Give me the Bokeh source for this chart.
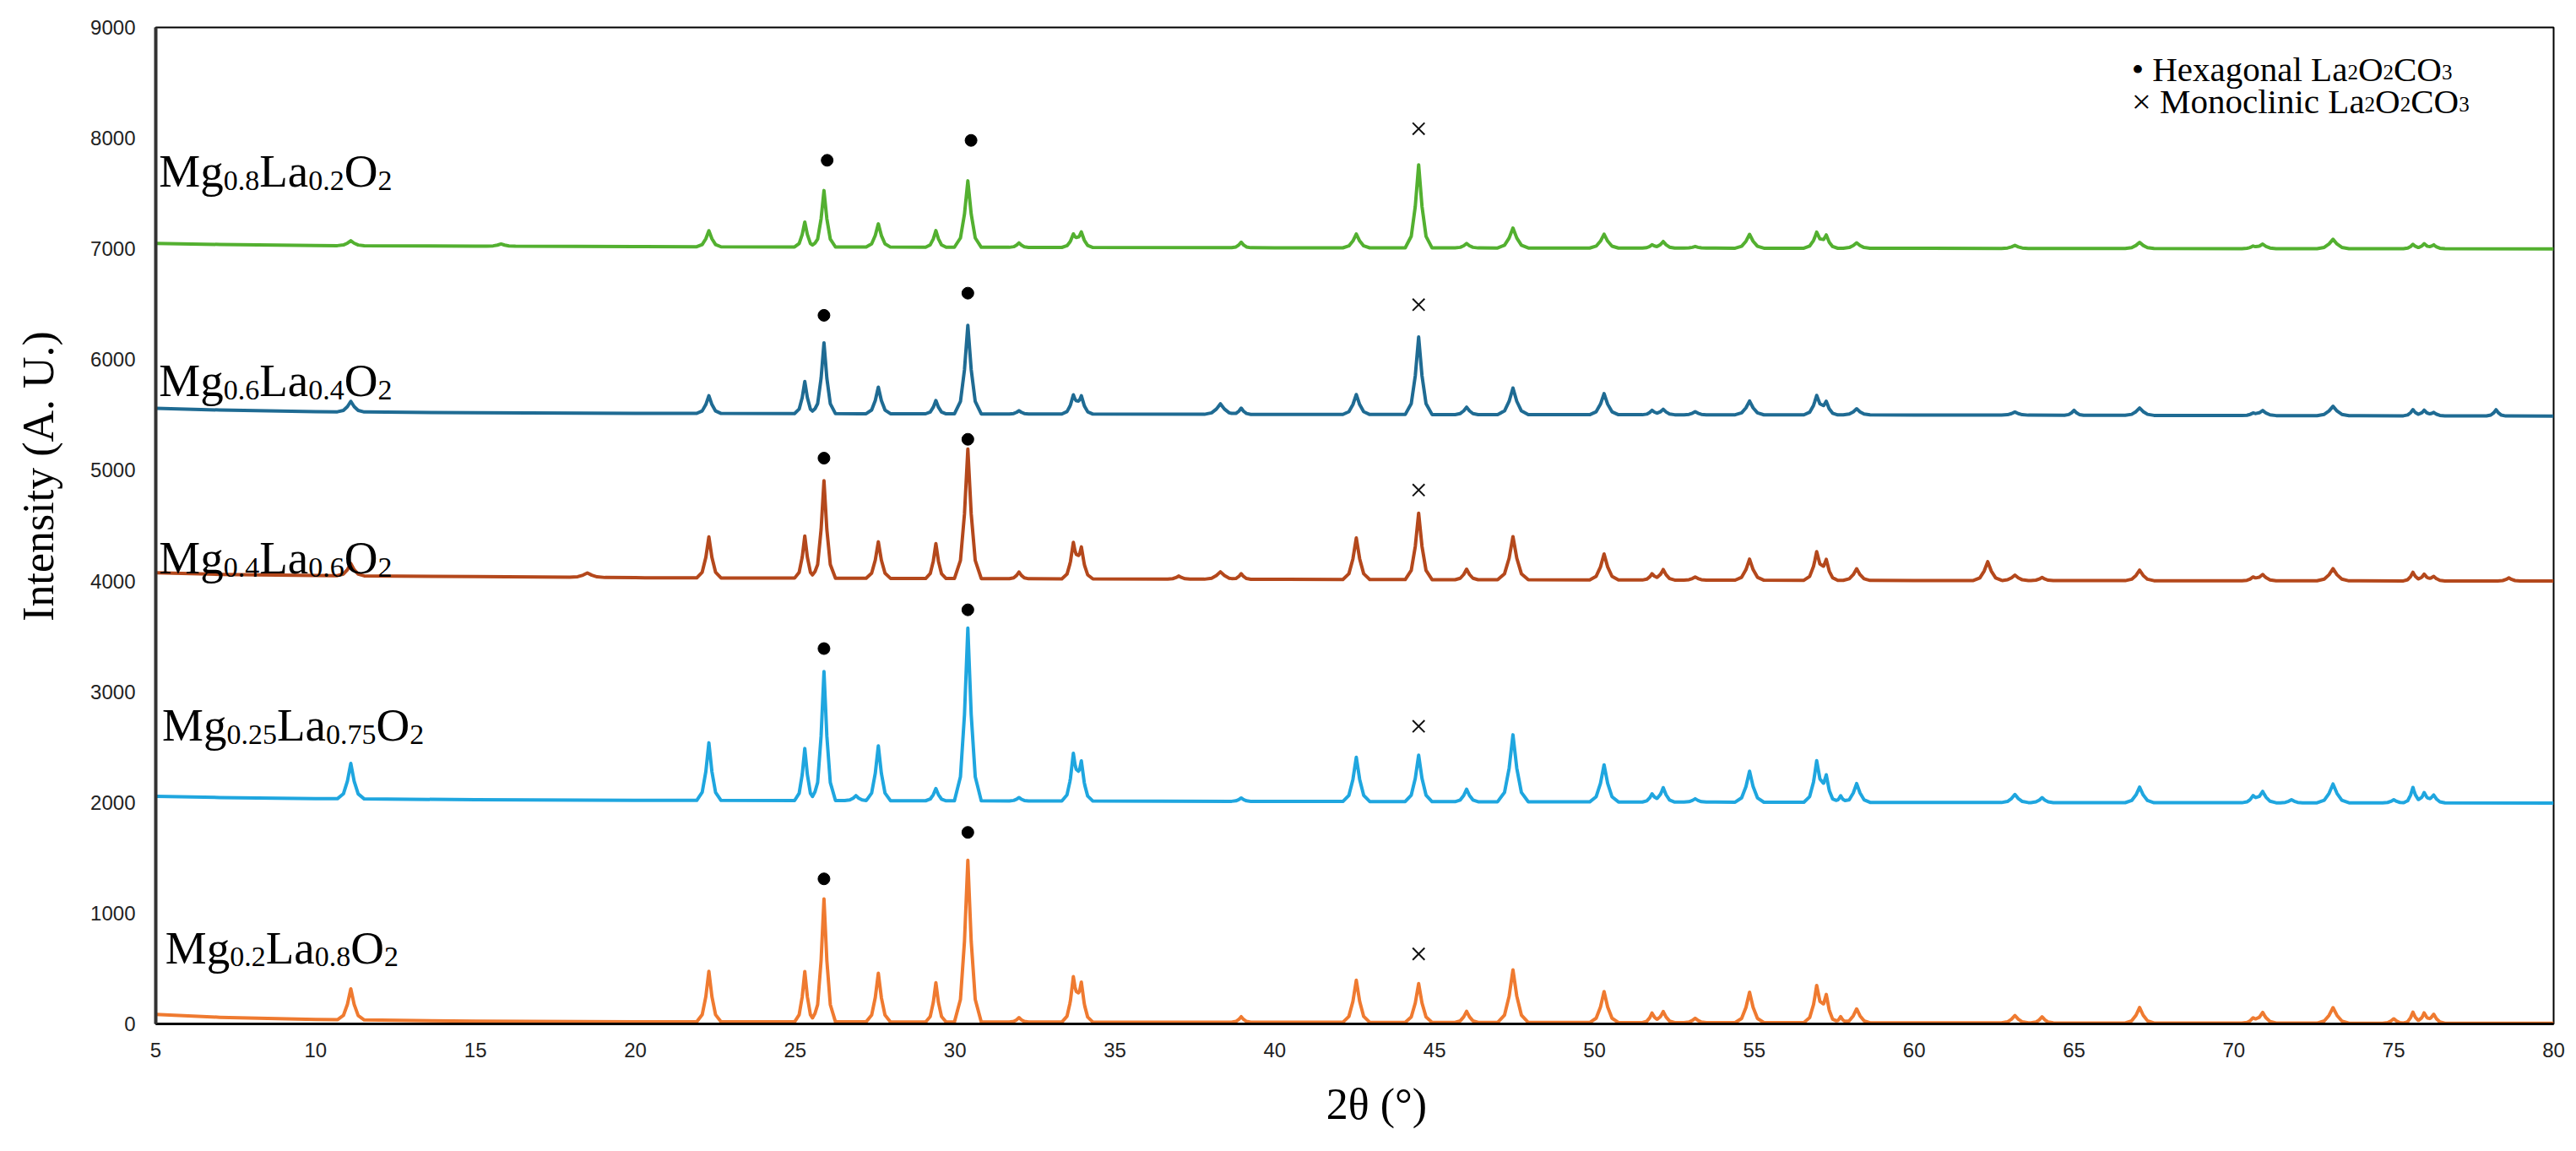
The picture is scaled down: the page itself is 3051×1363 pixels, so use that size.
import math
import numpy as np
from bokeh.plotting import figure
from bokeh.models import Range1d, FixedTicker, ColumnDataSource
from bokeh.core.properties import value
from bokeh.embed import file_html
from bokeh.resources import INLINE

# ---------------- data ----------------
x_ticks = [5, 10, 15, 20, 25, 30, 35, 40, 45, 50, 55, 60, 65, 70, 75, 80]
y_ticks = [0, 1000, 2000, 3000, 4000, 5000, 6000, 7000, 8000, 9000]

# common reflection positions (2theta, deg) and half base widths
peak_pos = [11.1, 15.8, 18.5, 22.3, 25.3, 25.9, 26.9, 27.6, 29.4, 30.4,
            32.0, 33.7, 33.95, 37.0, 38.3, 38.95, 42.55, 44.5, 46.0, 47.45,
            50.3, 51.8, 52.15, 53.15, 54.85, 56.95, 57.25, 57.7, 58.2, 62.3,
            63.15, 64.0, 65.0, 67.05, 70.6, 70.9, 71.8, 73.1, 75.0, 75.6,
            75.95, 76.25, 78.2, 78.6]
peak_hw = [0.42, 0.45, 0.55, 0.38, 0.32, 0.36, 0.35, 0.38, 0.32, 0.42,
           0.3, 0.36, 0.36, 0.35, 0.5, 0.3, 0.42, 0.42, 0.36, 0.48,
           0.45, 0.3, 0.36, 0.35, 0.45, 0.4, 0.36, 0.25, 0.42, 0.45,
           0.42, 0.35, 0.3, 0.45, 0.35, 0.42, 0.35, 0.5, 0.35, 0.3,
           0.32, 0.35, 0.3, 0.35]

base_x = [5, 7, 10, 15, 20, 40, 60, 80]

names = ["Mg0.2La0.8O2", "Mg0.25La0.75O2", "Mg0.4La0.6O2", "Mg0.6La0.4O2", "Mg0.8La0.2O2"]
colors = ["#ef7a30", "#1fa6df", "#b4481c", "#1f6b93", "#53b030"]

base_vals = {
    "Mg0.2La0.8O2":   [85, 60, 40, 25, 20, 15, 10, 5],
    "Mg0.25La0.75O2": [2055, 2045, 2035, 2025, 2020, 2010, 2000, 1995],
    "Mg0.4La0.6O2":   [4075, 4060, 4050, 4040, 4030, 4015, 4005, 4000],
    "Mg0.6La0.4O2":   [5560, 5545, 5530, 5520, 5515, 5505, 5500, 5490],
    "Mg0.8La0.2O2":   [7050, 7040, 7030, 7025, 7020, 7010, 7005, 7000],
}

peak_heights = {
    "Mg0.2La0.8O2": [280, 0, 0, 455, 455, 1110, 0, 440, 355, 1460,
                     40, 380, 325, 0, 0, 50, 380, 350, 100, 475,
                     280, 85, 100, 40, 275, 325, 230, 55, 125, 0,
                     67, 55, 0, 140, 40, 95, 0, 140, 40, 100,
                     90, 80, 0, 0],
    "Mg0.25La0.75O2": [320, 0, 0, 520, 470, 1165, 45, 495, 110, 1560,
                       30, 400, 325, 0, 0, 30, 400, 420, 112, 605,
                       335, 73, 130, 30, 280, 365, 220, 60, 170, 0,
                       73, 45, 0, 140, 56, 100, 28, 170, 28, 140,
                       90, 70, 0, 0],
    "Mg0.4La0.6O2": [110, 0, 40, 370, 380, 880, 0, 330, 315, 1170,
                     60, 305, 260, 28, 67, 50, 375, 600, 95, 390,
                     235, 56, 95, 28, 190, 250, 170, 0, 105, 170,
                     50, 28, 0, 95, 30, 56, 0, 110, 0, 78,
                     60, 40, 0, 28],
    "Mg0.6La0.4O2": [95, 0, 0, 160, 290, 640, 0, 240, 120, 800,
                     30, 160, 150, 0, 95, 56, 180, 700, 67, 240,
                     190, 40, 50, 28, 125, 170, 110, 0, 56, 0,
                     28, 0, 45, 67, 20, 45, 0, 85, 0, 56,
                     50, 30, 56, 0],
    "Mg0.8La0.2O2": [45, 20, 0, 145, 225, 510, 0, 210, 150, 600,
                     40, 110, 130, 0, 0, 50, 125, 750, 40, 180,
                     125, 30, 60, 15, 125, 140, 110, 0, 50, 0,
                     28, 0, 0, 56, 20, 40, 0, 85, 0, 40,
                     45, 35, 0, 0],
}

# marker annotations
hex_x = {"Mg0.2La0.8O2": [25.9, 30.4], "Mg0.25La0.75O2": [25.9, 30.4],
         "Mg0.4La0.6O2": [25.9, 30.4], "Mg0.6La0.4O2": [25.9, 30.4],
         "Mg0.8La0.2O2": [26.0, 30.5]}
hex_y = {"Mg0.2La0.8O2": [1310, 1730], "Mg0.25La0.75O2": [3390, 3740],
         "Mg0.4La0.6O2": [5110, 5280], "Mg0.6La0.4O2": [6400, 6600],
         "Mg0.8La0.2O2": [7800, 7980]}
mono_x = [44.5, 44.5, 44.5, 44.5, 44.5]
mono_y = [632, 2688, 4822, 6496, 8085]

# series labels: pieces (text, subscript?) and anchor (x, baseline y)
label_pieces = {
    "Mg0.2La0.8O2":   [("Mg", 0), ("0.2", 1), ("La", 0), ("0.8", 1), ("O", 0), ("2", 1)],
    "Mg0.25La0.75O2": [("Mg", 0), ("0.25", 1), ("La", 0), ("0.75", 1), ("O", 0), ("2", 1)],
    "Mg0.4La0.6O2":   [("Mg", 0), ("0.4", 1), ("La", 0), ("0.6", 1), ("O", 0), ("2", 1)],
    "Mg0.6La0.4O2":   [("Mg", 0), ("0.6", 1), ("La", 0), ("0.4", 1), ("O", 0), ("2", 1)],
    "Mg0.8La0.2O2":   [("Mg", 0), ("0.8", 1), ("La", 0), ("0.2", 1), ("O", 0), ("2", 1)],
}
label_x = {"Mg0.2La0.8O2": 5.3, "Mg0.25La0.75O2": 5.2, "Mg0.4La0.6O2": 5.1,
           "Mg0.6La0.4O2": 5.1, "Mg0.8La0.2O2": 5.1}
label_y = {"Mg0.2La0.8O2": 690, "Mg0.25La0.75O2": 2700, "Mg0.4La0.6O2": 4210,
           "Mg0.6La0.4O2": 5810, "Mg0.8La0.2O2": 7700}

legend_lines = [
    [("\u2022 Hexagonal ", 0), ("La", 0), ("2", 1), ("O", 0), ("2", 1), ("CO", 0), ("3", 1)],
    [("\u00d7 Monoclinic ", 0), ("La", 0), ("2", 1), ("O", 0), ("2", 1), ("CO", 0), ("3", 1)],
]
legend_x = 66.8
legend_y = [8625, 8335]

x_title = "2\u03b8 (\u00b0)"
y_title = "Intensity (A. U.)"

# ---------------- figure ----------------
FRAME_H = 1180
p = figure(width=3051, height=1363, output_backend="svg", toolbar_location=None,
           x_range=Range1d(5, 80), y_range=Range1d(0, 9000),
           min_border_left=184, min_border_right=27, min_border_top=32,
           min_border_bottom=151)
p.background_fill_color = "white"
p.border_fill_color = "white"
p.outline_line_color = "black"
p.outline_line_width = 2
p.xgrid.visible = False
p.ygrid.visible = False

for ax, ticks in ((p.xaxis[0], x_ticks), (p.yaxis[0], y_ticks)):
    ax.ticker = FixedTicker(ticks=ticks)
    ax.major_tick_in = 0
    ax.major_tick_out = 0
    ax.minor_tick_in = 0
    ax.minor_tick_out = 0
    ax.major_label_text_font = "Liberation Sans"
    ax.major_label_text_font_size = "24px"
    ax.major_label_text_color = "#222222"
    ax.axis_label_text_font = "Liberation Serif"
    ax.axis_label_text_font_size = "52px"
    ax.axis_label_text_font_style = "normal"
    ax.axis_label_text_color = "black"
p.xaxis.axis_line_width = 3
p.xaxis.axis_line_color = "black"
p.yaxis.axis_line_width = 4
p.yaxis.axis_line_color = "#333333"
p.xaxis.major_label_standoff = 22
p.yaxis.major_label_standoff = 24

# leading no-break spaces shift the centred titles to where the reference has them
p.xaxis.axis_label = "\u00a0" * 4 + x_title
p.yaxis.axis_label = "\u00a0" * 9 + y_title
p.xaxis.axis_label_standoff = 24
p.yaxis.axis_label_standoff = 30

pos = np.array(peak_pos)
hw = np.array(peak_hw)


def curve(name):
    hts = np.array(peak_heights[name], dtype=float)
    xs = set(base_x)
    for c, w, h in zip(pos, hw, hts):
        if h > 0:
            xs.update([c - w, c - 0.55 * w, c - 0.25 * w, c, c + 0.25 * w, c + 0.55 * w, c + w])
    xs = np.array(sorted(x for x in xs if 5 <= x <= 80))
    ys = np.interp(xs, base_x, base_vals[name])
    for c, w, h in zip(pos, hw, hts):
        if h > 0:
            d = np.abs(xs - c) / w
            ys = ys + h * np.interp(d, [0, 0.25, 0.55, 1], [1, 0.5, 0.14, 0], right=0)
    return xs, ys


for name, col in zip(names, colors):
    xs, ys = curve(name)
    p.line(xs, ys, line_color=col, line_width=4, line_join="round")

# markers
hx, hy = [], []
for name in names:
    hx += hex_x[name]
    hy += hex_y[name]
p.scatter(hx, hy, marker="circle", size=14, fill_color="black", line_color="black")
p.scatter(mono_x, mono_y, marker="x", size=20, line_width=2, line_color="#111111")

# text with subscripts
TW = {'M': 889, 'g': 500, 'L': 611, 'a': 444, 'O': 722, 'C': 667, '.': 250, ' ': 250,
      'H': 722, 'e': 444, 'x': 500, 'o': 500, 'n': 500, 'l': 278, 'i': 278, 'c': 444,
      '\u00d7': 564, '\u2022': 350}
for d in "0123456789":
    TW[d] = 500

units_per_px = 9000.0 / FRAME_H


def add_rich(pieces, x, y, fs_main, fs_sub, drop):
    main = dict(x=[], y=[], t=[], xo=[])
    sub = dict(x=[], y=[], t=[], xo=[])
    off = 0.0
    for txt, is_sub in pieces:
        fs = fs_sub if is_sub else fs_main
        tgt = sub if is_sub else main
        tgt["x"].append(x)
        tgt["y"].append(y - drop * units_per_px if is_sub else y)
        tgt["t"].append(txt)
        tgt["xo"].append(off)
        off += sum(TW.get(ch, 500) for ch in txt) / 1000.0 * fs
    for src, fs in ((main, fs_main), (sub, fs_sub)):
        p.text(x="x", y="y", text="t", x_offset="xo",
               source=ColumnDataSource(src), text_font=value("Liberation Serif"),
               text_font_size=value(f"{fs}px"), text_color="black",
               text_align="left", text_baseline="alphabetic")


for name in names:
    add_rich(label_pieces[name], label_x[name], label_y[name], 55, 34, 11)

for pieces, ly in zip(legend_lines, legend_y):
    add_rich(pieces, legend_x, ly, 41, 25, 4)

open("out.html", "w").write(file_html(p, INLINE))
